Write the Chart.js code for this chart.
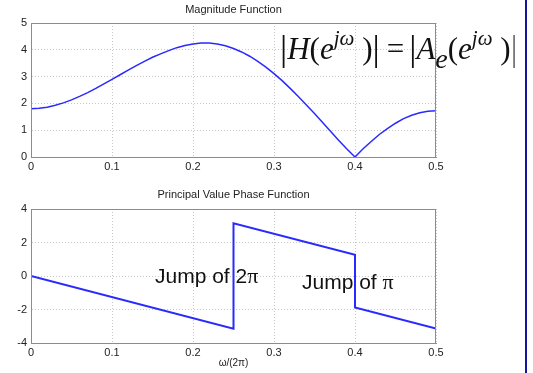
<!DOCTYPE html>
<html>
<head>
<meta charset="utf-8">
<script src="https://cdn.jsdelivr.net/npm/chart.js@4.4.1/dist/chart.umd.min.js"></script>
<style>
  html, body { margin: 0; padding: 0; background: #fff; }
  #page { position: relative; width: 533px; height: 373px; overflow: hidden; background: #fff; }
  .box { position: absolute; left: 0; width: 533px; }
  .note { position: absolute; font-family: 'Liberation Sans', Arial, sans-serif; font-size: 21px; color: #111; white-space: nowrap; line-height: 1; }
  .note .pi { font-family: 'Liberation Serif', 'Times New Roman', serif; font-size: 22px; }
  #eq { position: absolute; left: 280px; top: 29px; font-family: 'Liberation Serif', 'Times New Roman', serif; font-size: 31px; color: #111; white-space: nowrap; line-height: 1; }
  #eq i { font-style: italic; }
  #eq sup { font-size: 21px; vertical-align: 0; position: relative; top: -14px; }
  #eq sub { font-size: 28px; vertical-align: 0; position: relative; top: 9px; }
  #eq .bar { font-style: normal; font-size: 36px; position: relative; top: 1px; }
  #eq .eqs { padding: 0 5px 0 7px; }
  #edge { position: absolute; left: 525px; top: 0; width: 2px; height: 373px; background: #1414a0; }
</style>
</head>
<body>
<div id="page">
  <div class="box" style="top:0;height:180px"><canvas id="magChart"></canvas></div>
  <div class="box" style="top:180px;height:193px"><canvas id="phaseChart"></canvas></div>
  <div id="eq"><span class="bar">|</span><i>H</i>(<i>e</i><sup><i>j&omega;</i></sup>&nbsp;)<span class="bar">|</span><span class="eqs">=</span><span class="bar">|</span><i>A</i><sub><i>e</i></sub>(<i>e</i><sup><i>j&omega;</i></sup>&nbsp;)<span class="bar" style="color:#777">|</span></div>
  <div class="note" style="left:155px;top:265px">Jump of 2<span class="pi">&pi;</span></div>
  <div class="note" style="left:302px;top:271px">Jump of <span class="pi">&pi;</span></div>
  <div id="edge"></div>
</div>
<script>
// magnitude |H(e^jw)|, f = w/(2pi)
const magFreq = [0, 0.01, 0.02, 0.03, 0.04, 0.05, 0.06, 0.07, 0.08, 0.09,
                 0.1, 0.11, 0.12, 0.13, 0.14, 0.15, 0.16, 0.17, 0.18, 0.19,
                 0.2, 0.21, 0.22, 0.23, 0.24, 0.25, 0.26, 0.27, 0.28, 0.29,
                 0.3, 0.31, 0.32, 0.33, 0.34, 0.35, 0.36, 0.37, 0.38, 0.39,
                 0.4, 0.41, 0.42, 0.43, 0.44, 0.45, 0.46, 0.47, 0.48, 0.49, 0.5];
const magValues = [1.80, 1.82, 1.86, 1.93, 2.02, 2.13, 2.26, 2.40, 2.56, 2.73,
                   2.90, 3.07, 3.24, 3.41, 3.57, 3.72, 3.85, 3.97, 4.08, 4.16,
                   4.22, 4.25, 4.25, 4.22, 4.15, 4.05, 3.92, 3.76, 3.57, 3.35,
                   3.11, 2.85, 2.56, 2.26, 1.94, 1.62, 1.29, 0.95, 0.62, 0.30,
                   0.00, 0.31, 0.58, 0.84, 1.06, 1.26, 1.43, 1.56, 1.65, 1.71, 1.73];

// principal value of the phase, corners of the piecewise line
const phaseFreq = [0, 0.25, 0.25, 0.4, 0.4, 0.5];
const phaseValues = [0, -3.14, 3.14, 1.26, -1.88, -3.14];

const freqTicks = [0, 0.1, 0.2, 0.3, 0.4, 0.5];
const magTicks = [0, 1, 2, 3, 4, 5];
const phaseTicks = [-4, -2, 0, 2, 4];

const tickFont = { family: "'Liberation Sans', Arial, sans-serif", size: 11 };
const lineBlue = '#2a2aff';

// MATLAB style closed box round the plot area
const boxPlugin = {
    id: 'box',
    afterDraw(chart) {
        const a = chart.chartArea;
        const ctx = chart.ctx;
        ctx.save();
        ctx.strokeStyle = '#8c8c8c';
        ctx.lineWidth = 1;
        ctx.strokeRect(a.left + 0.5, a.top + 0.5, a.right - a.left - 1, a.bottom - a.top);
        ctx.restore();
    }
};

function toPoints(xs, ys) {
    return xs.map((x, i) => ({ x: x, y: ys[i] }));
}

function makeChart(id, opts) {
    return new Chart(document.getElementById(id), {
        type: 'line',
        data: {
            datasets: [{
                data: toPoints(opts.xs, opts.ys),
                borderColor: lineBlue,
                borderWidth: opts.lineWidth,
                pointRadius: 0,
                tension: 0,
                fill: false
            }]
        },
        options: {
            responsive: true,
            maintainAspectRatio: false,
            animation: false,
            layout: { padding: { top: 0, right: 97, left: 0, bottom: 0 } },
            plugins: {
                legend: { display: false },
                tooltip: { enabled: false },
                title: {
                    display: true,
                    text: opts.title,
                    fullSize: false,
                    color: '#222',
                    font: { family: tickFont.family, size: 11, weight: 'normal', lineHeight: 1.2 },
                    padding: opts.titlePad
                }
            },
            scales: {
                x: {
                    type: 'linear',
                    min: 0,
                    max: 0.5,
                    afterFit: s => { s.height = opts.xHeight; },
                    afterBuildTicks: s => { s.ticks = freqTicks.map(v => ({ value: v })); },
                    grid: { color: '#c8c8c8', drawTicks: false },
                    border: { display: true, color: '#8c8c8c', dash: [1, 2] },
                    ticks: { color: '#222', font: tickFont, padding: 3, maxRotation: 0,
                             callback: v => String(v) },
                    title: opts.xTitle ? {
                        display: true,
                        text: opts.xTitle,
                        color: '#222',
                        font: { family: tickFont.family, size: 10 },
                        padding: { top: 0, bottom: 4 }
                    } : { display: false }
                },
                y: {
                    min: opts.yMin,
                    max: opts.yMax,
                    afterFit: s => { s.width = 31; },
                    afterBuildTicks: s => { s.ticks = opts.yTicks.map(v => ({ value: v })); },
                    grid: { color: '#c8c8c8', drawTicks: false },
                    border: { display: true, color: '#8c8c8c', dash: [1, 2] },
                    ticks: { color: '#222', font: tickFont, padding: 4 }
                }
            }
        },
        plugins: [boxPlugin]
    });
}

makeChart('magChart', {
    xs: magFreq, ys: magValues, lineWidth: 1.5,
    title: 'Magnitude Function',
    titlePad: { top: 3, bottom: 6.8 },
    xHeight: 23,
    yMin: 0, yMax: 5, yTicks: magTicks
});

makeChart('phaseChart', {
    xs: phaseFreq, ys: phaseValues, lineWidth: 2,
    title: 'Principal Value Phase Function',
    titlePad: { top: 8, bottom: 7.8 },
    xHeight: 30,
    xTitle: '\u03c9/(2\u03c0)',
    yMin: -4, yMax: 4, yTicks: phaseTicks
});
</script>
</body>
</html>
